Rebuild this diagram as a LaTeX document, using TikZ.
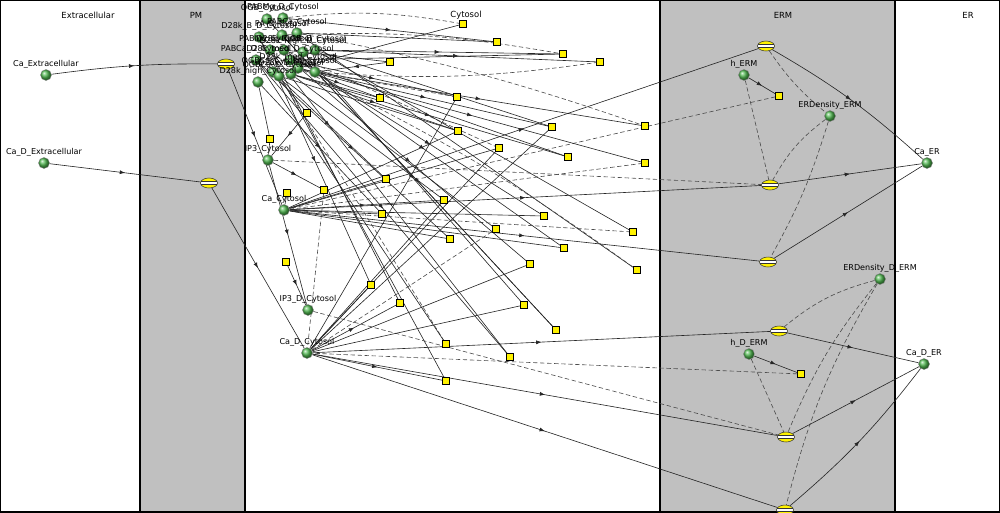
\documentclass[tikz,border=0pt]{standalone}
\usepackage{fontspec}
\setmainfont{DejaVu Sans}
\usetikzlibrary{shapes.geometric,arrows.meta,decorations.markings}
\definecolor{membrane}{RGB}{192,192,192}
\definecolor{ballgreen}{RGB}{80,185,80}
\pgfdeclarelayer{bg}
\pgfdeclarelayer{edges}
\pgfsetlayers{bg,edges,main}
\tikzset{
  spc/.style={circle, shading=ball, ball color=ballgreen, draw=black!50, line width=0.2pt, minimum size=0.22cm, inner sep=0pt},
  rxn/.style={rectangle, draw=black, fill=yellow, line width=0.3pt, minimum size=0.14cm, inner sep=0pt},
  flux/.style={ellipse, draw=black!80, fill=yellow, line width=0.3pt, minimum width=0.34cm, minimum height=0.2cm, inner sep=0pt,
    path picture={
      \fill[white] ([yshift=-0.7pt]path picture bounding box.west) rectangle ([yshift=0.7pt]path picture bounding box.east);
      \draw[line width=0.3pt] ([yshift=-0.8pt]path picture bounding box.west) -- ([yshift=-0.8pt]path picture bounding box.east)
                              ([yshift=0.8pt]path picture bounding box.west) -- ([yshift=0.8pt]path picture bounding box.east);}},
  lbl/.style={font=\fontsize{4.6}{5}\selectfont, inner sep=0.4pt},
  comp/.style={font=\fontsize{4.8}{5}\selectfont},
  edge/.style={draw=black!85, line width=0.35pt},
  cat/.style={draw=black!70, line width=0.35pt, dash pattern=on 2.5pt off 1.5pt},
  rflow/.style={postaction={decorate}, decoration={markings, mark=at position 0.5 with {\arrow{Latex[length=3pt,width=2.3pt]}}}}
}
\begin{document}
\begin{tikzpicture}[x=0.02cm, y=-0.02cm]
    \useasboundingbox (0,0) rectangle (1000,512);

    %%compartments
    \begin{pgfonlayer}{bg}
        \fill[membrane] (140,0) rectangle (245,512);
        \fill[membrane] (660,0) rectangle (895,512);
        \draw[line width=0.6pt] (0,0) rectangle (1000,512);
        \draw[line width=0.6pt] (140,0) to (140,512);
        \draw[line width=0.6pt] (245,0) to (245,512);
        \draw[line width=0.6pt] (660,0) to (660,512);
        \draw[line width=0.6pt] (895,0) to (895,512);
    \end{pgfonlayer}
        \node[comp] (textra) at (88,15){Extracellular};
        \node[comp] (tpm) at (196,15){PM};
        \node[comp] (tcyt) at (466,15){Cytosol};
        \node[comp] (term) at (783,15){ERM};
        \node[comp] (ter) at (968,15){ER};

    %%Extracellular
        \node[spc, label={[lbl]above:Ca\_Extracellular}] (caext) at (46,75){};
        \node[spc, label={[lbl]above:Ca\_D\_Extracellular}] (cadext) at (44,163){};

    %%PM
        \node[flux] (fpm1) at (226,64){};
        \node[flux] (fpm2) at (209,183){};

    %%Cytosol buffers
        \node[spc, label={[lbl]above:OGB\_Cytosol}] (c1) at (267,19){};
        \node[spc, label={[lbl]above:PABMg\_D\_Cytosol}] (c2) at (283,18){};
        \node[spc, label={[lbl]above:D28k\_B\_D\_Cytosol}] (c3) at (259,37){};
        \node[spc, label={[lbl]above:PA\_D\_Cytosol}] (c4) at (282,35){};
        \node[spc, label={[lbl]above:PABCa\_Cytosol}] (c5) at (297,33){};
        \node[spc, label={[lbl]above:PABMg\_Cytosol}] (c6) at (270,50){};
        \node[spc, label={[lbl]above:D28k\_high\_D\_Cytosol}] (c7) at (303,52){};
        \node[spc, label={[lbl]above:D28k\_Cytosol}] (c8) at (284,50){};
        \node[spc, label={[lbl]above:OGB\_D\_Cytosol}] (c9) at (315,50){};
        \node[spc, label={[lbl]above:PABCa\_D\_Cytosol}] (c10) at (256,60){};
        \node[spc, label={[lbl]above:D28k\_med\_D\_Cytosol}] (c11) at (290,60){};
        \node[spc, label={[lbl]above:D28k\_med\_Cytosol}] (c12) at (298,68){};
        \node[spc, label={[lbl]above:PA\_Cytosol}] (c13) at (315,72){};
        \node[spc, label={[lbl]above:OGBCa\_Cytosol}] (c14) at (273,72){};
        \node[spc, label={[lbl]above:OGBCa\_D\_Cytosol}] (c15) at (279,76){};
        \node[spc, label={[lbl]above:D28k\_D\_Cytosol}] (c16) at (291,74){};
        \node[spc, label={[lbl]above:D28k\_high\_Cytosol}] (c17) at (258,82){};

    %%Cytosol Ca and IP3
        \node[spc, label={[lbl]above:IP3\_Cytosol}] (ipcyt) at (268,160){};
        \node[spc, label={[lbl]above:Ca\_Cytosol}] (cacyt) at (284,210){};
        \node[spc, label={[lbl]above:IP3\_D\_Cytosol}] (ipdcyt) at (308,310){};
        \node[spc, label={[lbl]above:Ca\_D\_Cytosol}] (cadcyt) at (307,353){};

    %%Cytosol reactions
        \node[rxn] (r1) at (463,24){};
        \node[rxn] (r2) at (497,42){};
        \node[rxn] (r3) at (563,54){};
        \node[rxn] (r4) at (600,62){};
        \node[rxn] (r5) at (390,62){};
        \node[rxn] (r6) at (380,98){};
        \node[rxn] (r7) at (457,97){};
        \node[rxn] (r8) at (307,113){};
        \node[rxn] (r9) at (458,131){};
        \node[rxn] (r10) at (552,127){};
        \node[rxn] (r11) at (645,126){};
        \node[rxn] (r12) at (270,139){};
        \node[rxn] (r13) at (499,148){};
        \node[rxn] (r14) at (568,157){};
        \node[rxn] (r15) at (645,163){};
        \node[rxn] (r16) at (287,193){};
        \node[rxn] (r17) at (324,190){};
        \node[rxn] (r18) at (386,179){};
        \node[rxn] (r19) at (444,200){};
        \node[rxn] (r20) at (382,214){};
        \node[rxn] (r21) at (544,216){};
        \node[rxn] (r22) at (496,229){};
        \node[rxn] (r23) at (450,239){};
        \node[rxn] (r24) at (633,232){};
        \node[rxn] (r25) at (564,248){};
        \node[rxn] (r26) at (530,264){};
        \node[rxn] (r27) at (637,270){};
        \node[rxn] (r28) at (286,262){};
        \node[rxn] (r29) at (371,285){};
        \node[rxn] (r30) at (400,303){};
        \node[rxn] (r31) at (524,305){};
        \node[rxn] (r32) at (556,330){};
        \node[rxn] (r33) at (446,344){};
        \node[rxn] (r34) at (510,357){};
        \node[rxn] (r35) at (446,381){};

    %%ERM
        \node[flux] (ferm1) at (766,46){};
        \node[flux] (ferm2) at (770,185){};
        \node[flux] (ferm3) at (768,262){};
        \node[flux] (ferm4) at (779,331){};
        \node[flux] (ferm5) at (786,437){};
        \node[flux] (ferm6) at (785,510){};
        \node[spc, label={[lbl]above:h\_ERM}] (herm) at (744,75){};
        \node[rxn] (rh) at (779,96){};
        \node[spc, label={[lbl]above:ERDensity\_ERM}] (erd) at (830,116){};
        \node[spc, label={[lbl]above:ERDensity\_D\_ERM}] (erdd) at (880,279){};
        \node[spc, label={[lbl]above:h\_D\_ERM}] (hderm) at (749,354){};
        \node[rxn] (rhd) at (801,374){};

    %%ER
        \node[spc, label={[lbl]above:Ca\_ER}] (caer) at (927,163){};
        \node[spc, label={[lbl]above:Ca\_D\_ER}] (cader) at (924,364){};

    \begin{pgfonlayer}{edges}
        %%PM
        \draw[edge,rflow] (caext) to[bend left=4] (fpm1);
        \draw[edge,rflow] (fpm1) to (cacyt);
        \draw[edge,rflow] (cadext) to (fpm2);
        \draw[edge,rflow] (fpm2) to (cadcyt);

        %%ERM
        \draw[edge,rflow] (cacyt) to (ferm1);
        \draw[edge,rflow] (ferm1) to[bend left=6] (caer);
        \draw[edge,rflow] (cacyt) to (ferm2);
        \draw[edge,rflow] (ferm2) to (caer);
        \draw[edge,rflow] (cacyt) to (ferm3);
        \draw[edge,rflow] (ferm3) to (caer);
        \draw[edge,rflow] (cadcyt) to (ferm4);
        \draw[edge,rflow] (ferm4) to (cader);
        \draw[edge,rflow] (cadcyt) to (ferm5);
        \draw[edge,rflow] (ferm5) to (cader);
        \draw[edge,rflow] (cadcyt) to (ferm6);
        \draw[edge,rflow] (ferm6) to[bend right=6] (cader);
        \draw[edge,rflow] (herm) to (rh);
        \draw[edge,rflow] (hderm) to (rhd);
        \draw[cat] (rh) to (cacyt);
        \draw[cat] (rhd) to (cadcyt);
        \draw[cat] (ferm1) to[bend right=8] (erd);
        \draw[cat] (herm) to (ferm2);
        \draw[cat] (erd) to[bend right=12] (ferm2);
        \draw[cat] (erd) to[bend left=6] (ferm3);
        \draw[cat] (ipcyt) to (ferm2);
        \draw[cat] (ipdcyt) to (ferm5);
        \draw[cat] (hderm) to (ferm5);
        \draw[cat] (erdd) to[bend right=12] (ferm4);
        \draw[cat] (erdd) to[bend right=8] (ferm5);
        \draw[cat] (erdd) to[bend right=8] (ferm6);

        %%Cytosol
        \draw[cat] (c2) to[bend left=8] (r1);
        \draw[edge] (c12) to (r1);
        \draw[edge,rflow] (c2) to (r2);
        \draw[edge] (c5) to (r2);
        \draw[cat] (c4) to[bend left=6] (r3);
        \draw[edge,rflow] (c9) to (r3);
        \draw[edge] (c11) to (r3);
        \draw[edge,rflow] (c9) to (r4);
        \draw[cat] (c13) to[bend right=6] (r4);
        \draw[edge,rflow] (c8) to (r5);
        \draw[edge,rflow] (r5) to (c13);
        \draw[edge,rflow] (c12) to (r6);
        \draw[edge] (c16) to (r6);
        \draw[edge,rflow] (c11) to (r7);
        \draw[cat] (c13) to (r7);
        \draw[edge] (cadcyt) to (r7);
        \draw[edge] (c14) to (r8);
        \draw[edge,rflow] (r8) to (ipcyt);
        \draw[edge,rflow] (c16) to (r9);
        \draw[edge] (c15) to (r9);
        \draw[edge] (cacyt) to (r9);
        \draw[edge,rflow] (c12) to (r10);
        \draw[edge] (c9) to (r10);
        \draw[edge] (cadcyt) to (r10);
        \draw[edge,rflow] (c13) to (r11);
        \draw[cat] (c5) to[bend left=4] (r11);
        \draw[edge] (c17) to (r12);
        \draw[edge] (r12) to (ipcyt);
        \draw[cat] (c8) to (r13);
        \draw[edge,rflow] (cacyt) to (r13);
        \draw[edge] (cadcyt) to (r13);
        \draw[edge,rflow] (c16) to (r14);
        \draw[edge] (c11) to (r14);
        \draw[edge,rflow] (c12) to (r15);
        \draw[cat] (cacyt) to (r15);
        \draw[edge] (cacyt) to (r16);
        \draw[edge,rflow] (ipcyt) to (r17);
        \draw[cat] (r17) to (cadcyt);
        \draw[edge,rflow] (c14) to (r18);
        \draw[edge] (cacyt) to (r18);
        \draw[edge] (c15) to (r19);
        \draw[edge,rflow] (cacyt) to (r19);
        \draw[edge] (cadcyt) to (r19);
        \draw[edge,rflow] (c17) to (r20);
        \draw[edge] (cacyt) to (r20);
        \draw[edge,rflow] (c13) to (r21);
        \draw[edge] (cacyt) to (r21);
        \draw[edge] (c16) to (r22);
        \draw[cat] (cadcyt) to (r22);
        \draw[edge,rflow] (c10) to (r23);
        \draw[edge] (cacyt) to (r23);
        \draw[edge] (c9) to (r24);
        \draw[cat] (cacyt) to (r24);
        \draw[edge,rflow] (c8) to (r25);
        \draw[edge] (cacyt) to (r25);
        \draw[edge,rflow] (c11) to (r26);
        \draw[edge] (cadcyt) to (r26);
        \draw[edge] (c5) to (r27);
        \draw[cat] (c12) to[bend left=5] (r27);
        \draw[edge,rflow] (r28) to (ipdcyt);
        \draw[edge,rflow] (c3) to (r29);
        \draw[edge] (cadcyt) to (r29);
        \draw[edge] (c6) to (r30);
        \draw[edge,rflow] (cadcyt) to (r30);
        \draw[edge,rflow] (c7) to (r31);
        \draw[edge] (cadcyt) to (r31);
        \draw[edge] (c1) to (r32);
        \draw[edge,rflow] (c4) to (r32);
        \draw[cat] (c15) to (r33);
        \draw[edge] (c10) to (r33);
        \draw[edge,rflow] (c10) to (r34);
        \draw[edge] (c6) to (r34);
        \draw[edge] (c3) to (r35);
        \draw[edge,rflow] (cadcyt) to (r35);
        \draw[edge,rflow] (ipcyt) to (ipdcyt);
    \end{pgfonlayer}
\end{tikzpicture}
\end{document}
